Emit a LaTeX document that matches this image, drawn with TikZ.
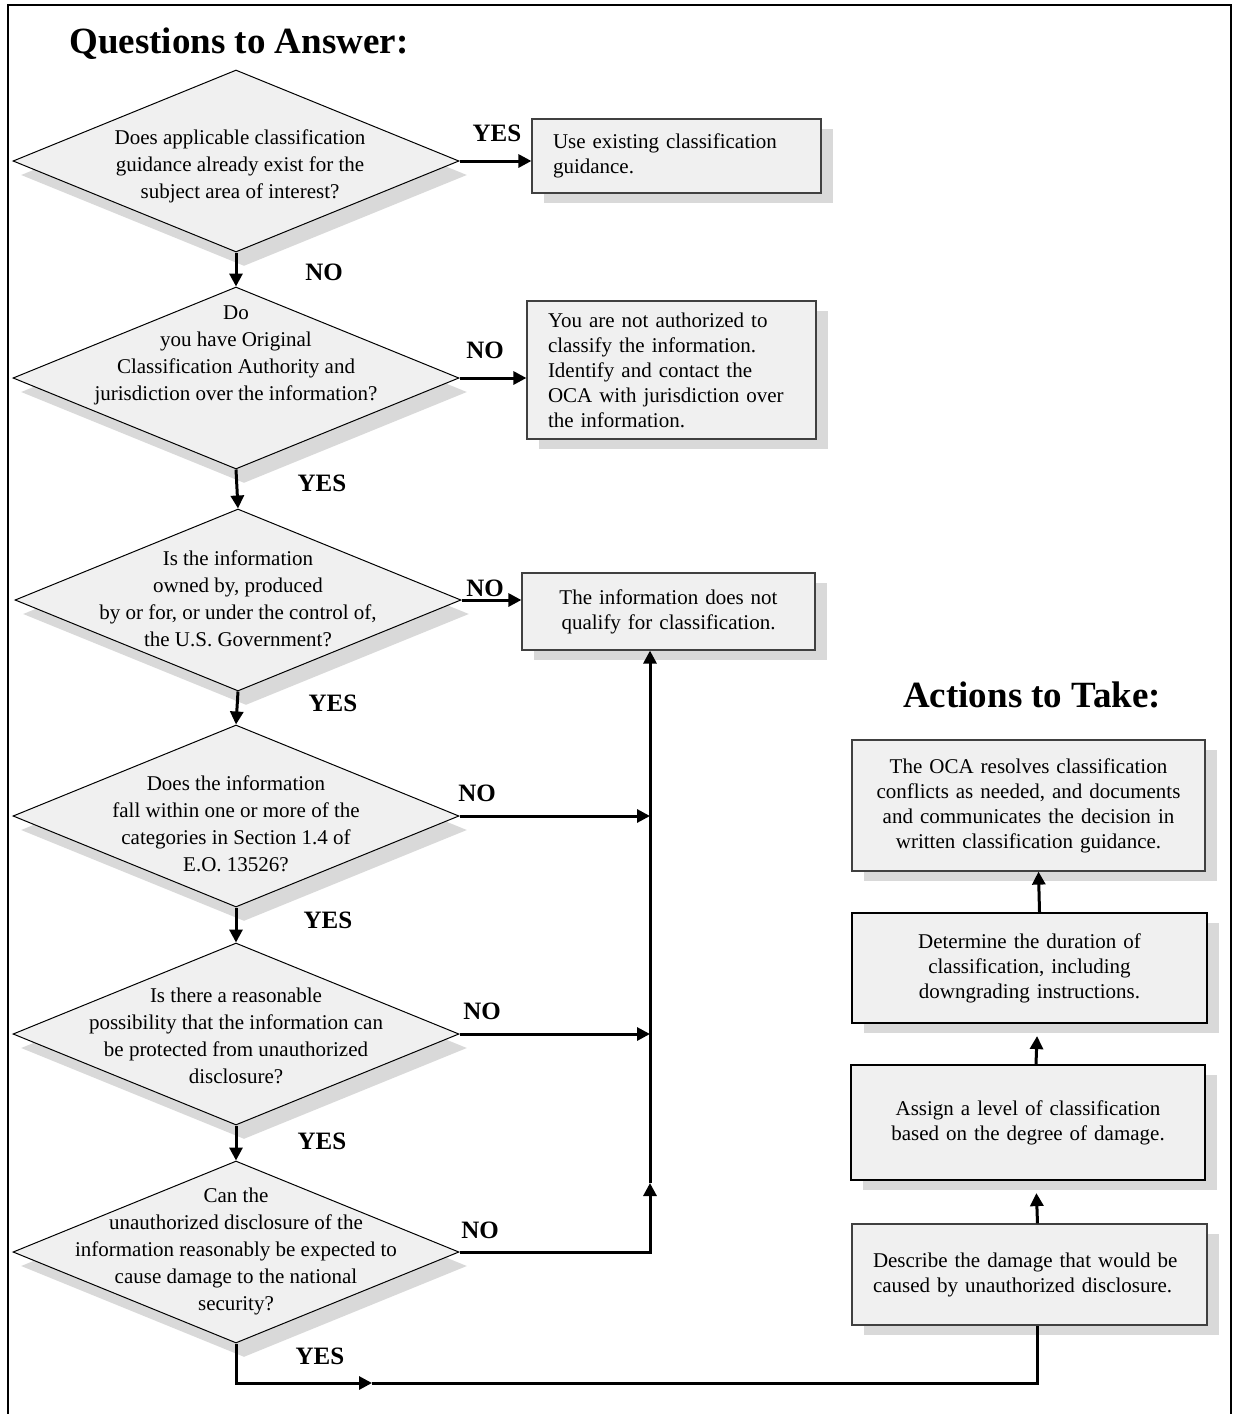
\documentclass[tikz,border=0pt]{standalone}
\usepackage{fontspec}
\setmainfont{Liberation Serif}
\usetikzlibrary{shapes.geometric, shadows, arrows.meta, calc}
\tikzset{>={Triangle[length=6.5pt,width=6.5pt]}}
\definecolor{boxfill}{HTML}{F0F0F0}
\definecolor{shadowgray}{HTML}{D9D9D9}

\tikzset{
  ask/.style={diamond, draw, line width=0.5pt, fill=boxfill, inner sep=0pt,
    minimum width=223pt, minimum height=91pt,
    drop shadow={shadow xshift=4pt, shadow yshift=-7pt, fill=shadowgray, opacity=1}},
  asktext/.style={align=center, inner sep=0pt, font=\fontsize{10.5pt}{13.5pt}\selectfont},
  act/.style={rectangle, draw=black!75, line width=0.6pt, fill=boxfill,
    inner xsep=10.5pt, inner ysep=0pt, font=\fontsize{10.5pt}{12.5pt}\selectfont,
    drop shadow={shadow xshift=6pt, shadow yshift=-5pt, fill=shadowgray, opacity=1}},
  actbold/.style={act, draw=black, line width=1.1pt},
  answer/.style={inner sep=0pt, font=\fontsize{12.5pt}{14pt}\selectfont\bfseries},
  heading/.style={inner sep=0pt, anchor=base, font=\fontsize{18.5pt}{22pt}\selectfont\bfseries},
  flow/.style={->, line width=1.5pt},
  link/.style={line width=1.5pt},
}

\begin{document}
\begin{tikzpicture}[x=0.5pt, y=-0.5pt]
	\useasboundingbox (0,0) rectangle (1238,1414);
	\draw [line width=0.8pt] (8,1414) -- (8,5) -- (1231,5) -- (1231,1414);
	\node [heading] (qhead) at (239,53) {Questions to Answer:};
	\node [heading] (ahead) at (1032,707) {Actions to Take:};
	% questions
	\node [ask] (ask1) at (236,161) {};
	\node [ask] (ask2) at (236,378) {};
	\node [ask] (ask3) at (238,600) {};
	\node [ask] (ask4) at (236,816) {};
	\node [ask] (ask5) at (236,1034) {};
	\node [ask] (ask6) at (236,1252) {};
	\node [asktext] (ask1txt) at (240,166) {Does applicable classification\\guidance already exist for the\\subject area of interest?};
	\node [asktext] (ask2txt) at (236,355) {Do\\you have Original\\Classification Authority and\\jurisdiction over the information?};
	\node [asktext] (ask3txt) at (238,599) {Is the information\\owned by, produced\\by or for, or under the control of,\\the U.S. Government?};
	\node [asktext] (ask4txt) at (236,824) {Does the information\\fall within one or more of the\\categories in Section 1.4 of\\E.O. 13526?};
	\node [asktext] (ask5txt) at (236,1036) {Is there a reasonable\\possibility that the information can\\be protected from unauthorized\\disclosure?};
	\node [asktext] (ask6txt) at (236,1251) {Can the\\unauthorized disclosure of the\\information reasonably be expected to\\cause damage to the national\\security?};
	% outcomes
	\node [act, text width=123.5pt, minimum height=37pt, align=left] (use) at (676.5,156) {Use existing classification\\guidance.};
	\node [act, text width=123.5pt, minimum height=69pt, align=left] (noauth) at (671.5,370) {You are not authorized to\\classify the information.\\Identify and contact the\\OCA with jurisdiction over\\the information.};
	\node [act, text width=125.5pt, minimum height=38.5pt, align=center] (noqual) at (668.5,611.5) {The information does not\\qualify for classification.};
	% actions
	\node [act, text width=155.5pt, minimum height=65.5pt, align=center] (resolve) at (1028.5,805.5) {The OCA resolves classification\\conflicts as needed, and documents\\and communicates the decision in\\written classification guidance.};
	\node [actbold, text width=156.5pt, minimum height=55pt, align=center] (duration) at (1029.5,968) {Determine the duration of\\classification, including\\downgrading instructions.};
	\node [actbold, text width=156pt, minimum height=57.5pt, align=center] (level) at (1028,1122.5) {Assign a level of classification\\based on the degree of damage.};
	\node [act, text width=156.5pt, minimum height=50.5pt, align=left] (damage) at (1029.5,1274.5) {Describe the damage that would be\\caused by unauthorized disclosure.};
	% answers
	\node [answer] (yes1) at (497,133) {YES};
	\node [answer] (no1) at (324,272) {NO};
	\node [answer] (no2) at (485,350) {NO};
	\node [answer] (yes2) at (322,483) {YES};
	\node [answer] (no3) at (485,588) {NO};
	\node [answer] (yes3) at (333,703) {YES};
	\node [answer] (no4) at (477,793) {NO};
	\node [answer] (yes4) at (328,920) {YES};
	\node [answer] (no5) at (482,1011) {NO};
	\node [answer] (yes5) at (322,1141) {YES};
	\node [answer] (no6) at (480,1230) {NO};
	\node [answer] (yes6) at (320,1356) {YES};
	% junctions
	\coordinate (j4) at (650,816);
	\coordinate (j5) at (650,1034);
	\coordinate (j6) at (650,1183);
	\coordinate (j7) at (372,1383);
	% connectors
	\draw [flow] (ask1.south) -- (ask2.north);
	\draw [flow] (ask2.south) -- (ask3.north);
	\draw [flow] (ask3.south) -- (ask4.north);
	\draw [flow] (ask4.south) -- (ask5.north);
	\draw [flow] (ask5.south) -- (ask6.north);
	\draw [flow] (ask1.east) -- (ask1.east -| use.west);
	\draw [flow] (ask2.east) -- (ask2.east -| noauth.west);
	\draw [flow] (ask3.east) -- (ask3.east -| noqual.west);
	\draw [flow] (ask4.east) -- (j4);
	\draw [flow] (ask5.east) -- (j5);
	\draw [flow] (ask6.east) -| (j6);
	\draw [flow] (j6) -- (j6 |- noqual.south);
	\draw [flow] (ask6.south) |- (j7);
	\draw [link] (j7) -| ([xshift=4pt]damage.south);
	\draw [flow, shorten >=6pt] ([xshift=4pt]damage.north) -- ([xshift=4pt]level.south);
	\draw [flow, shorten >=6pt] ([xshift=4pt]level.north) -- ([xshift=4pt]duration.south);
	\draw [flow] ([xshift=5pt]duration.north) -- ([xshift=5pt]resolve.south);
\end{tikzpicture}
\end{document}
